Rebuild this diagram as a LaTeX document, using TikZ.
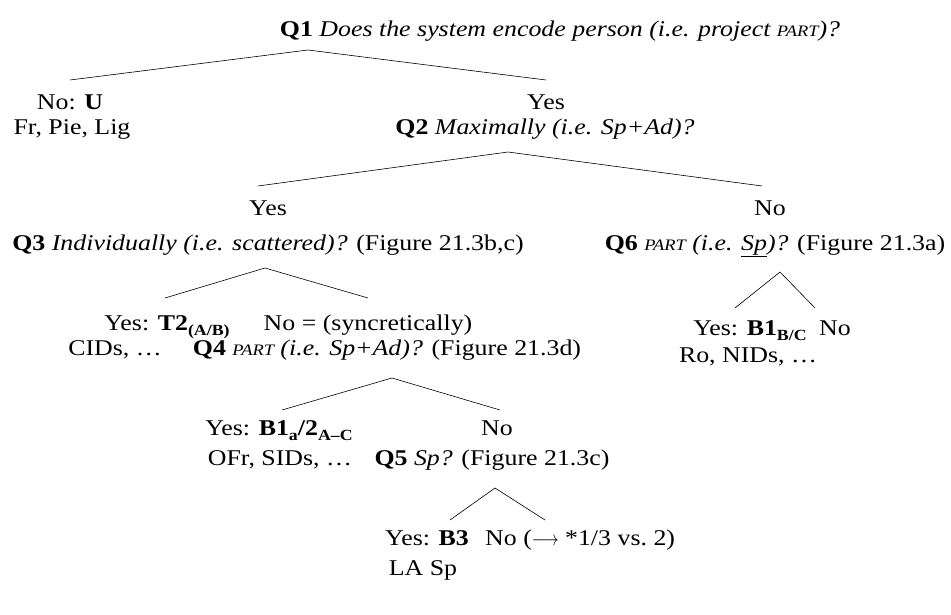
\documentclass[tikz,border=0pt]{standalone}
\usepackage{fontspec}
\setmainfont[FakeStretch=1.15]{Liberation Serif}
\newcommand{\smpart}{{\fontsize{16}{16}\selectfont PART}}
\newcommand{\subb}[1]{\raisebox{-0.24em}{\fontsize{15.5}{16}\selectfont\bfseries #1}}
\begin{document}
\begin{tikzpicture}[x=1pt,y=-1pt,
  txt/.style={anchor=base,inner sep=0pt,font=\fontsize{22.5}{25}\selectfont},
  txtw/.style={txt,anchor=base west},
  br/.style={line width=0.6pt}]
\useasboundingbox (0,0) rectangle (951,615);
% level 0
\node[txt] (q1) at (560,37) {\textbf{Q1} \textit{Does the system encode person (i.e. project \smpart)?}};
\coordinate (a1) at (308,50);
\coordinate (a1l) at (70,80);
\coordinate (a1r) at (546,80);
\draw[br] (a1l) -- (a1) -- (a1r);
% level 1
\node[txt] (nou) at (70,110) {No: \textbf{U}};
\node[txt] (fr) at (72,135) {Fr, Pie, Lig};
\node[txt] (yes1) at (546,110) {Yes};
\node[txt] (q2) at (545,135) {\textbf{Q2} \textit{Maximally (i.e. Sp+Ad)?}};
\coordinate (a2) at (508,152);
\coordinate (a2l) at (258,186);
\coordinate (a2r) at (762,186);
\draw[br] (a2l) -- (a2) -- (a2r);
% level 2
\node[txt] (yes2) at (268,215) {Yes};
\node[txt] (no2) at (770,215) {No};
\node[txt] (q3) at (268,250) {\textbf{Q3} \textit{Individually (i.e. scattered)?} (Figure 21.3b,c)};
\node[txt] (q6) at (775,250) {\textbf{Q6} \textit{\smpart\ (i.e. \underline{Sp})?} (Figure 21.3a)};
% Q3 branch
\coordinate (a3) at (265,268);
\coordinate (a3l) at (165,298);
\coordinate (a3r) at (368,298);
\draw[br] (a3l) -- (a3) -- (a3r);
\node[txt] (t2) at (167,330) {Yes: \textbf{T2}\subb{(A/B)}};
\node[txt] (cids) at (115,355) {CIDs, …};
\node[txt] (no3) at (368,330) {No = (syncretically)};
\node[txt] (q4) at (387,355) {\textbf{Q4} \textit{\smpart\ (i.e. Sp+Ad)?} (Figure 21.3d)};
% Q6 branch
\coordinate (a6) at (780,272);
\coordinate (a6l) at (735,308);
\coordinate (a6r) at (815,308);
\draw[br] (a6l) -- (a6) -- (a6r);
\node[txt] (b1bc) at (750,335) {Yes: \textbf{B1}\subb{B/C}};
\node[txt] (no6) at (835,335) {No};
\node[txt] (ro) at (748,362) {Ro, NIDs, …};
% Q4 branch
\coordinate (a4) at (392,378);
\coordinate (a4l) at (282,410);
\coordinate (a4r) at (500,410);
\draw[br] (a4l) -- (a4) -- (a4r);
\node[txt] (b1a) at (279,435) {Yes: \textbf{B1}\subb{a}\textbf{/2}\subb{A--C}};
\node[txt] (no4) at (497,435) {No};
\node[txt] (ofr) at (280,465) {OFr, SIDs, …};
\node[txt] (q5) at (492,465) {\textbf{Q5} \textit{Sp?} (Figure 21.3c)};
% Q5 branch
\coordinate (a5) at (495,488);
\coordinate (a5l) at (450,520);
\coordinate (a5r) at (545,520);
\draw[br] (a5l) -- (a5) -- (a5r);
\node[txt] (b3) at (427,545) {Yes: \textbf{B3}};
\node[txtw] (no5) at (485,545) {No (\scalebox{0.8}[1]{$\longrightarrow$} *1/3 vs.~2)};
\node[txt] (lasp) at (423,575) {LA Sp};
\end{tikzpicture}
\end{document}
